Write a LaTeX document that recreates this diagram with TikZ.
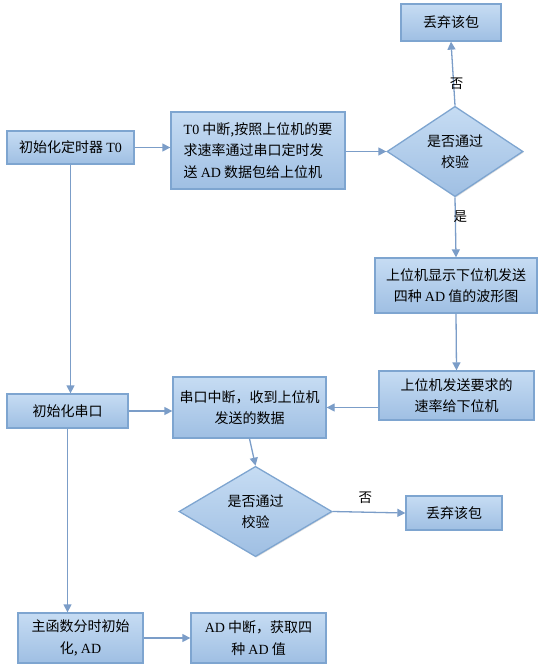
\documentclass[tikz,border=0pt]{standalone}
\usepackage{fontspec}
\setmainfont{Liberation Serif}
\newfontfamily\cjk{Noto Sans CJK SC}
\usetikzlibrary{shapes.geometric,arrows.meta,shadows}
\definecolor{boxtop}{HTML}{C6DCF3}
\definecolor{boxbot}{HTML}{9FBFE3}
\definecolor{boxline}{HTML}{7EA5D0}
\definecolor{conn}{HTML}{7B9DC8}
\tikzset{
  flow/.style={draw=boxline, line width=1.3pt, top color=boxtop, bottom color=boxbot,
    drop shadow={shadow xshift=1pt, shadow yshift=-1pt, opacity=0.25},
    inner sep=0pt, align=center, font=\cjk\fontsize{14}{21.5}\selectfont},
  rbox/.style={flow, rectangle},
  dbox/.style={flow, diamond},
  conn/.style={draw=conn, line width=1.3pt, -{Triangle[width=8pt,length=8pt]}},
  lbl/.style={font=\cjk\fontsize{13.5}{15}\selectfont, inner sep=1pt}
}
\newcommand{\lt}[1]{{\rmfamily #1}}
\begin{document}
\begin{tikzpicture}[x=1pt,y=-1pt]
\useasboundingbox (0,0) rectangle (545,668);
\node[rbox, minimum width=127pt, minimum height=33pt] (b1) at (70.5,147.5) {初始化定时器 \lt{T0}};
\node[rbox, minimum width=174pt, minimum height=77pt, align=left] (b2) at (258,150.5) {\lt{T0} 中断,按照上位机的要\\求速率通过串口定时发\\送 \lt{AD} 数据包给上位机};
\node[rbox, minimum width=100pt, minimum height=37pt] (top) at (451,22.5) {丢弃该包};
\node[dbox, minimum width=136pt, minimum height=87pt] (d1) at (455,151.5) {是否通过\\校验};
\node[rbox, minimum width=162pt, minimum height=55pt] (b5) at (456,285.5) {上位机显示下位机发送\\四种 \lt{AD} 值的波形图};
\node[rbox, minimum width=155pt, minimum height=49pt] (b6) at (456.5,395.5) {上位机发送要求的\\速率给下位机};
\node[rbox, minimum width=121pt, minimum height=34pt] (b7) at (67.5,411) {初始化串口};
\node[rbox, minimum width=153pt, minimum height=61pt] (b8) at (249.5,407.5) {串口中断，收到上位机\\发送的数据};
\node[dbox, minimum width=153pt, minimum height=89pt] (d2) at (255.5,511.5) {是否通过\\校验};
\node[rbox, minimum width=96pt, minimum height=34pt] (b10) at (454,513) {丢弃该包};
\node[rbox, minimum width=125pt, minimum height=50pt] (b11) at (80.5,638) {主函数分时初始\\化, \lt{AD}};
\node[rbox, minimum width=135pt, minimum height=50pt] (b12) at (258.5,638) {\lt{AD} 中断，获取四\\种 \lt{AD} 值};

\draw[conn] (b1.east) -- (b1.east -| b2.west);
\draw[conn] (b2.east |- d1.west) -- (d1.west);
\draw[conn] (d1.north) -- node[lbl, pos=0.35, xshift=3pt] {否} (top.south);
\draw[conn] (d1.south) -- node[lbl, pos=0.32, xshift=5pt] {是} (b5.north);
\draw[conn] (b5.south) -- (b6.north);
\draw[conn] (b6.west |- b8.east) -- (b8.east);
\draw[conn] (b1.south) -- (b1.south |- b7.north);
\draw[conn] (b7.east) -- (b7.east -| b8.west);
\draw[conn] (b8.south) -- (d2.north);
\draw[conn] (d2.east) -- node[lbl, above=7pt, pos=0.45] {否} (b10.west);
\draw[conn] (b7.south) -- (b7.south |- b11.north);
\draw[conn] (b11.east) -- (b11.east -| b12.west);
\end{tikzpicture}
\end{document}
